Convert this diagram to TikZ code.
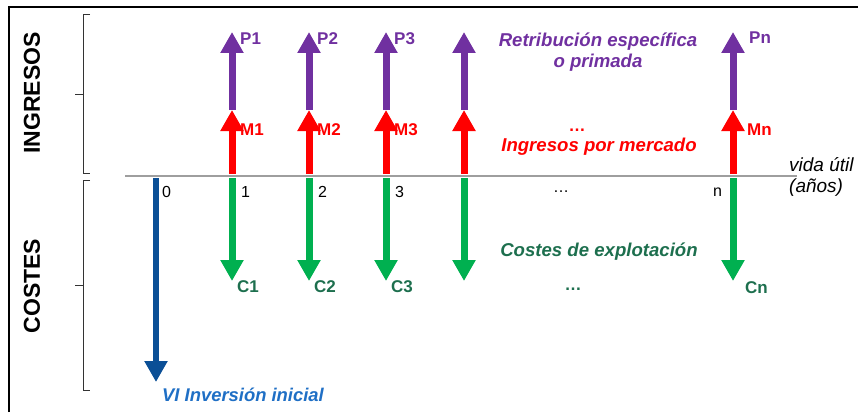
\documentclass[tikz,border=0pt]{standalone}
\usepackage{fontspec}
\setmainfont{Liberation Sans}
\usetikzlibrary{arrows.meta}
\definecolor{morado}{HTML}{7030A0}
\definecolor{rojo}{HTML}{FF0000}
\definecolor{verde}{HTML}{00B050}
\definecolor{verdeosc}{HTML}{1D6F4E}
\definecolor{azul}{HTML}{0B4F96}
\definecolor{azulclaro}{HTML}{1F6FC5}
\tikzset{
  flecha/.style={line width=7pt,-{Triangle[width=22pt,length=21pt]}},
  etiq/.style={inner sep=0pt,font=\fontsize{17}{19}\selectfont\bfseries},
  rotulo/.style={inner sep=0pt,align=center,font=\fontsize{18.6}{21}\selectfont\bfseries\itshape},
  num/.style={inner sep=0pt,anchor=west,font=\fontsize{16}{18}\selectfont},
  llave/.style={line width=1pt,black!80}
}
\begin{document}
\begin{tikzpicture}[x=1pt,y=-1pt]
\useasboundingbox (0,0) rectangle (858,412);
% marco
\draw [line width=2pt] (9,412)--(9,7)--(858,7);
% llaves
\draw [llave] (90,15)--(83,15)--(83,173)--(90,173);
\draw [llave] (83,94)--(75,94);
\draw [llave] (90,180)--(83,180)--(83,390)--(90,390);
\draw [llave] (83,285)--(75,285);
\node (ingresos) at (32,93) [rotate=90,inner sep=0pt,font=\fontsize{23}{25}\selectfont\bfseries] {INGRESOS};
\node (costes) at (32,286) [rotate=90,inner sep=0pt,font=\fontsize{23}{25}\selectfont\bfseries] {COSTES};
% eje
\coordinate (ejeA) at (125,176);
\coordinate (ejeB) at (797,176);
\draw [line width=2pt,black!38] (ejeA)--(ejeB);
\node (vida) at (789,177) [anchor=west,inner sep=0pt,align=left,font=\fontsize{19}{21}\selectfont\itshape] {vida útil\\(años)};
% inversion inicial
\coordinate (z0) at (156,178);
\coordinate (v0) at (156,382);
\draw [flecha,azul,line width=6pt] (z0)--(v0);
\node (n0) at (162,192) [num] {0};
\node (vi) at (162,395) [anchor=west,inner sep=0pt,azulclaro,font=\fontsize{18.4}{20}\selectfont\bfseries\itshape] {VI Inversión inicial};
% columnas
\foreach \x/\i in {232/1,309/2,386/3,464/4,733/n} {
  \coordinate (b\i) at (\x,174);
  \coordinate (m\i) at (\x,110);
  \coordinate (p\i) at (\x,32);
  \coordinate (g\i) at (\x,178);
  \coordinate (c\i) at (\x,281);
  \draw [flecha,rojo] (b\i)--(m\i);
  \draw [flecha,morado] (m\i)--(p\i);
  \draw [flecha,verde] (g\i)--(c\i);
}
\foreach \x/\i in {232/1,309/2,386/3} {
  \node (P\i) at (\x+8,39) [etiq,anchor=west,morado] {P\i};
  \node (M\i) at (\x+8,130) [etiq,anchor=west,rojo] {M\i};
  \node (C\i) at (\x+5,287) [etiq,anchor=west,verdeosc] {C\i};
  \node (N\i) at (\x+9,192) [num] {\i};
}
\node (Pn) at (749,38) [etiq,anchor=west,morado] {Pn};
\node (Mn) at (747,130) [etiq,anchor=west,rojo] {Mn};
\node (Cn) at (745,288) [etiq,anchor=west,verdeosc] {Cn};
\node (Nn) at (713,192) [num] {n};
\node (puntos) at (561,192) [inner sep=0pt,font=\fontsize{16}{18}\selectfont] {\ldots};
% rotulos
\node (retrib) at (598,52) [rotulo,morado] {Retribución específica\\o primada};
\node (ptsM) at (577,130) [etiq,rojo] {\ldots};
\node (mercado) at (599,147) [rotulo,rojo] {Ingresos por mercado};
\node (explot) at (599,252) [rotulo,verdeosc] {Costes de explotación};
\node (ptsC) at (573,289) [etiq,verdeosc] {\ldots};
\end{tikzpicture}
\end{document}
